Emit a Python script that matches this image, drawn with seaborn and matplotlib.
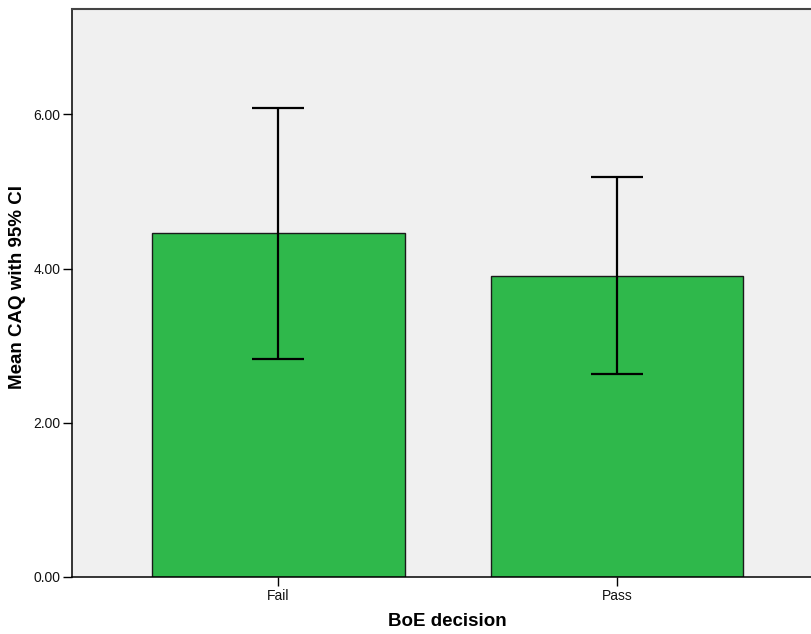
import matplotlib
matplotlib.use("Agg")
import matplotlib.pyplot as plt
import seaborn as sns
import numpy as np
import pandas as pd

# Mean CAQ score by BoE decision with 95% confidence limits
decisions = ["Fail", "Pass"]
mean_caq = [4.455, 3.906]
ci_lower = [2.822, 2.634]
ci_upper = [6.086, 5.186]
y_ticks = [0.0, 2.0, 4.0, 6.0]

sns.set_theme(style="white")
plt.rcParams["font.family"] = ["Liberation Sans", "DejaVu Sans"]

df = pd.DataFrame({"BoE decision": decisions, "Mean CAQ": mean_caq})

fig = plt.figure(figsize=(8.12, 6.34), dpi=100)
ax = fig.add_axes([72 / 812, 57 / 634, 1 - 72 / 812, 568 / 634])
ax.set_facecolor("#F0F0F0")

sns.barplot(data=df, x="BoE decision", y="Mean CAQ", color="#2FB84B",
            saturation=1, edgecolor="#1A1A1A", linewidth=1.0,
            width=0.747, errorbar=None, ax=ax)

means = np.array(mean_caq)
yerr = np.vstack([means - np.array(ci_lower), np.array(ci_upper) - means])
ax.errorbar(x=np.arange(len(decisions)), y=means, yerr=yerr, fmt="none",
            ecolor="black", elinewidth=1.6, capsize=18.7, capthick=1.6,
            zorder=5)

ax.set_ylim(0, 7.366)
ax.set_xlim(-0.610, 1.576)
ax.set_yticks(y_ticks)
ax.set_yticklabels([f"{v:.2f}" for v in y_ticks])

ax.set_xlabel("BoE decision", fontsize=13.5, fontweight="bold", color="black")
ax.set_ylabel("Mean CAQ with 95% CI", fontsize=13.5, fontweight="bold",
              color="black")
ax.xaxis.set_label_coords(0.507, -0.064)
ax.yaxis.set_label_coords(-0.062, 0.51)

ax.tick_params(axis="both", which="major", length=6.5, width=1.0,
               color="black", labelsize=10, labelcolor="#111111",
               direction="out", pad=2, left=True, bottom=True)

for side in ["left", "bottom"]:
    ax.spines[side].set_color("black")
    ax.spines[side].set_linewidth(1.1)
ax.spines["top"].set_color("#444444")
ax.spines["top"].set_linewidth(1.5)
ax.spines["right"].set_visible(False)

fig.savefig("out.png", dpi=100, facecolor="white")
